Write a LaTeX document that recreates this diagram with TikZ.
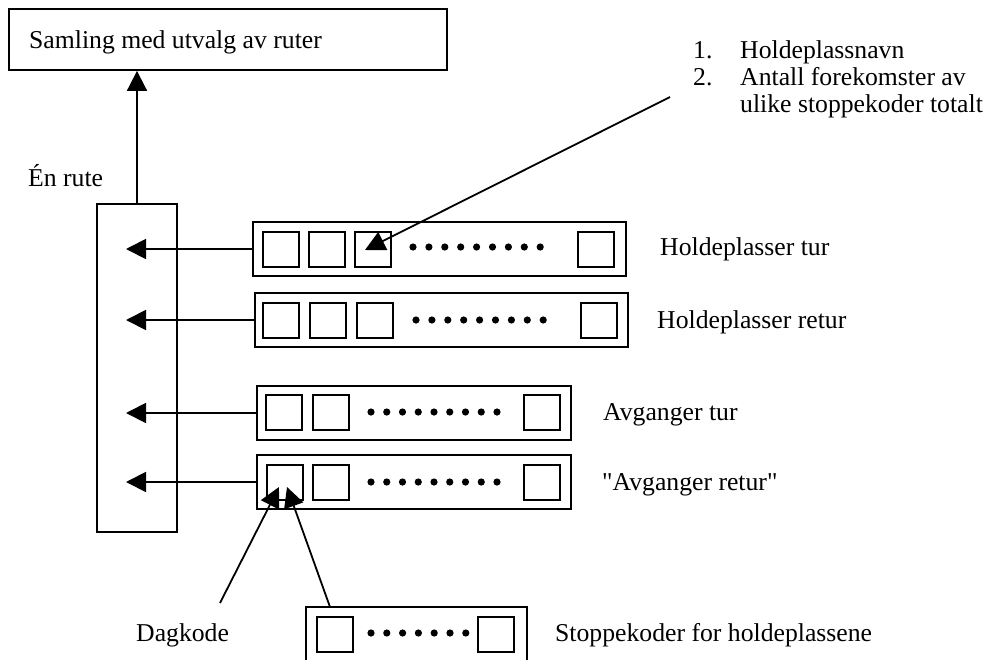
\documentclass[tikz,border=0pt]{standalone}
\usepackage{fontspec}
\newfontfamily\dserif{Liberation Serif}
\usetikzlibrary{arrows.meta}
\begin{document}
\begin{tikzpicture}[x=1pt,y=-1pt,
  every node/.style={font=\dserif\fontsize{25.7}{29}\selectfont},
  box/.style={draw,line width=1.8pt,rectangle,inner sep=0pt},
  sq/.style={draw,line width=1.8pt,rectangle,inner sep=0pt,minimum width=36pt,minimum height=35pt,anchor=north west},
  lbl/.style={inner sep=0pt,anchor=base west},
  arr/.style={line width=1.8pt,-{Triangle[length=20pt,width=20pt]}}]
\clip (0,0) rectangle (991,659);
\fill[white] (0,0) rectangle (991,659);

% top box
\node[box,minimum width=438pt,minimum height=61pt] (top) at (228,39.5) {};
\node[lbl] (toptxt) at (29,48) {Samling med utvalg av ruter};

% route box
\node[box,minimum width=80pt,minimum height=328pt] (rute) at (137,368) {};
\node[lbl] (rutetxt) at (28,186) {Én rute};
\draw[arr] (rute.north) -- (top.south -| rute.north);

% rows
\node[box,minimum width=373pt,minimum height=54pt] (r1) at (439.5,249) {};
\node[box,minimum width=373pt,minimum height=54pt] (r2) at (441.5,320) {};
\node[box,minimum width=314pt,minimum height=54pt] (r3) at (414,413) {};
\node[box,minimum width=314pt,minimum height=54pt] (r4) at (414,482) {};
\node[box,minimum width=221pt,minimum height=66pt] (r5) at (416.5,640) {};

% squares row1
\node[sq] (a1) at (262,231) {};
\node[sq] (a2) at (308,231) {};
\node[sq] (a3) at (354,231) {};
\node[sq] (a4) at (577,231) {};
\foreach \i in {0,...,8} \fill (413+\i*15.9,247) circle (3.6);
% row2
\node[sq] (b1) at (262,302) {};
\node[sq] (b2) at (309,302) {};
\node[sq] (b3) at (356,302) {};
\node[sq] (b4) at (580,302) {};
\foreach \i in {0,...,8} \fill (416+\i*15.9,320) circle (3.6);
% row3
\node[sq] (c1) at (265,394) {};
\node[sq] (c2) at (312,394) {};
\node[sq] (c4) at (523,394) {};
\foreach \i in {0,...,8} \fill (371+\i*15.75,412) circle (3.6);
% row4
\node[sq] (d1) at (266,464) {};
\node[sq] (d2) at (312,464) {};
\node[sq] (d4) at (523,464) {};
\foreach \i in {0,...,8} \fill (371+\i*15.75,482) circle (3.6);
% bottom row
\node[sq] (e1) at (316,616) {};
\node[sq] (e2) at (477,616) {};
\foreach \i in {0,...,6} \fill (371+\i*15.8,633) circle (3.6);

% arrows into route box
\coordinate (tipx) at (126,0);
\draw[arr] (r1.west) -- (r1.west -| tipx);
\draw[arr] (r2.west) -- (r2.west -| tipx);
\draw[arr] (r3.west) -- (r3.west -| tipx);
\draw[arr] (r4.west) -- (r4.west -| tipx);

% labels
\node[lbl] (l1) at (660,255) {Holdeplasser tur};
\node[lbl] (l2) at (657,328) {Holdeplasser retur};
\node[lbl] (l3) at (603,420) {Avganger tur};
\node[lbl] (l4) at (602,490) {"Avganger retur"};
\node[lbl] (l5) at (555,641) {Stoppekoder for holdeplassene};
\node[lbl] (dag) at (136,641) {Dagkode};

% list
\node[lbl] (n1) at (693,58) {1.};
\node[lbl] (t1) at (740,58) {Holdeplassnavn};
\node[lbl] (n2) at (693,85) {2.};
\node[lbl] (t2) at (740,85) {Antall forekomster av};
\node[lbl] (t3) at (740,112) {ulike stoppekoder totalt};

% long arrow
\coordinate (ls) at (670,97);
\coordinate (lt) at (365,250);
\draw[arr] (ls) -- (lt);

% Dagkode arrows
\coordinate (ds) at (220,603);
\coordinate (dt) at (279,487);
\draw[arr] (ds) -- (dt);
\coordinate (es) at (330,607);
\coordinate (et) at (287,487);
\draw[arr] (es) -- (et);
\end{tikzpicture}
\end{document}
